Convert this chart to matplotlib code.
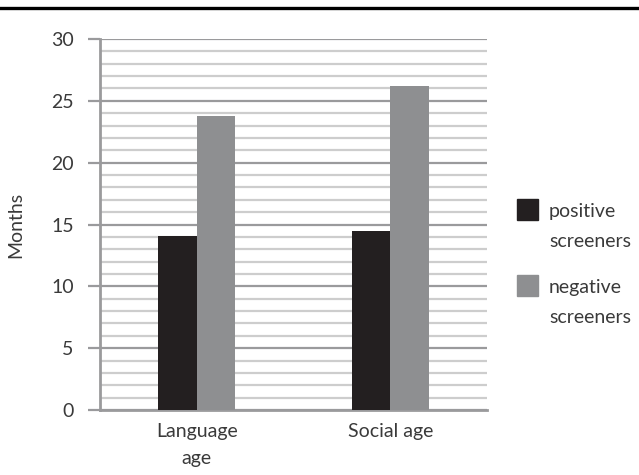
import numpy as np
import matplotlib.pyplot as plt
from matplotlib.lines import Line2D
from matplotlib.patches import Rectangle

categories = ["Language\nage", "Social age"]
positive = [14.1, 14.5]
negative = [23.8, 26.2]
series_labels = [["positive", "screeners"], ["negative", "screeners"]]

plt.rcParams['font.family'] = ['Lato', 'DejaVu Sans']
text_color = '#3a3a3a'
dark = '#231f20'
grey = '#8e8f91'
colors = [dark, grey]
fs = 14
W, H = 639, 475

fig = plt.figure(figsize=(W / 100, H / 100), dpi=100)
ax = fig.add_axes([100 / W, 1 - 410 / H, 387 / W, 371 / H])

x = np.arange(len(categories))
w = 0.2
ax.bar(x - w / 2, positive, w, color=dark, zorder=3)
ax.bar(x + w / 2, negative, w, color=grey, zorder=3)

ax.set_xlim(-0.5, 1.5)
ax.set_ylim(0, 30)
ax.set_yticks(np.arange(0, 31, 5))
ax.set_yticks(np.arange(0, 31, 1), minor=True)
ax.grid(axis='y', which='minor', color='#cdcdcd', linewidth=1.6, zorder=0)
ax.grid(axis='y', which='major', color='#9a9a9c', linewidth=1.6, zorder=1)

ax.set_xticks(x)
ax.set_xticklabels(categories, linespacing=1.75)
ax.tick_params(axis='x', length=0, pad=9, labelsize=fs, labelcolor=text_color)
ax.tick_params(axis='y', which='major', length=9, width=1.6, color='#9a9a9c',
               labelsize=fs, labelcolor=text_color, pad=10)
ax.tick_params(axis='y', which='minor', length=0)

for side in ['top', 'right']:
    ax.spines[side].set_visible(False)
for side in ['left', 'bottom']:
    ax.spines[side].set_color('#9a9a9c')
    ax.spines[side].set_linewidth(2)

ax.set_ylabel("Months", fontsize=fs, color=text_color)
ax.yaxis.set_label_coords(-76 / 387, 0.5)

# legend drawn by hand: square beside a two-line label
for i, (lines, c) in enumerate(zip(series_labels, colors)):
    top = 199 + 76 * i
    fig.add_artist(Rectangle((517 / W, 1 - (top + 21) / H), 21 / W, 21 / H,
                             color=c, transform=fig.transFigure))
    for j, line in enumerate(lines):
        fig.text(549 / W, 1 - (top + 18 + 30 * j) / H, line, fontsize=fs,
                 color=text_color, va='baseline', ha='left')

# rule across the top of the figure
fig.add_artist(Line2D([0, 1], [1 - 8 / H, 1 - 8 / H], color='black',
                      linewidth=2.4, transform=fig.transFigure))

fig.savefig("out.png", dpi=100)
